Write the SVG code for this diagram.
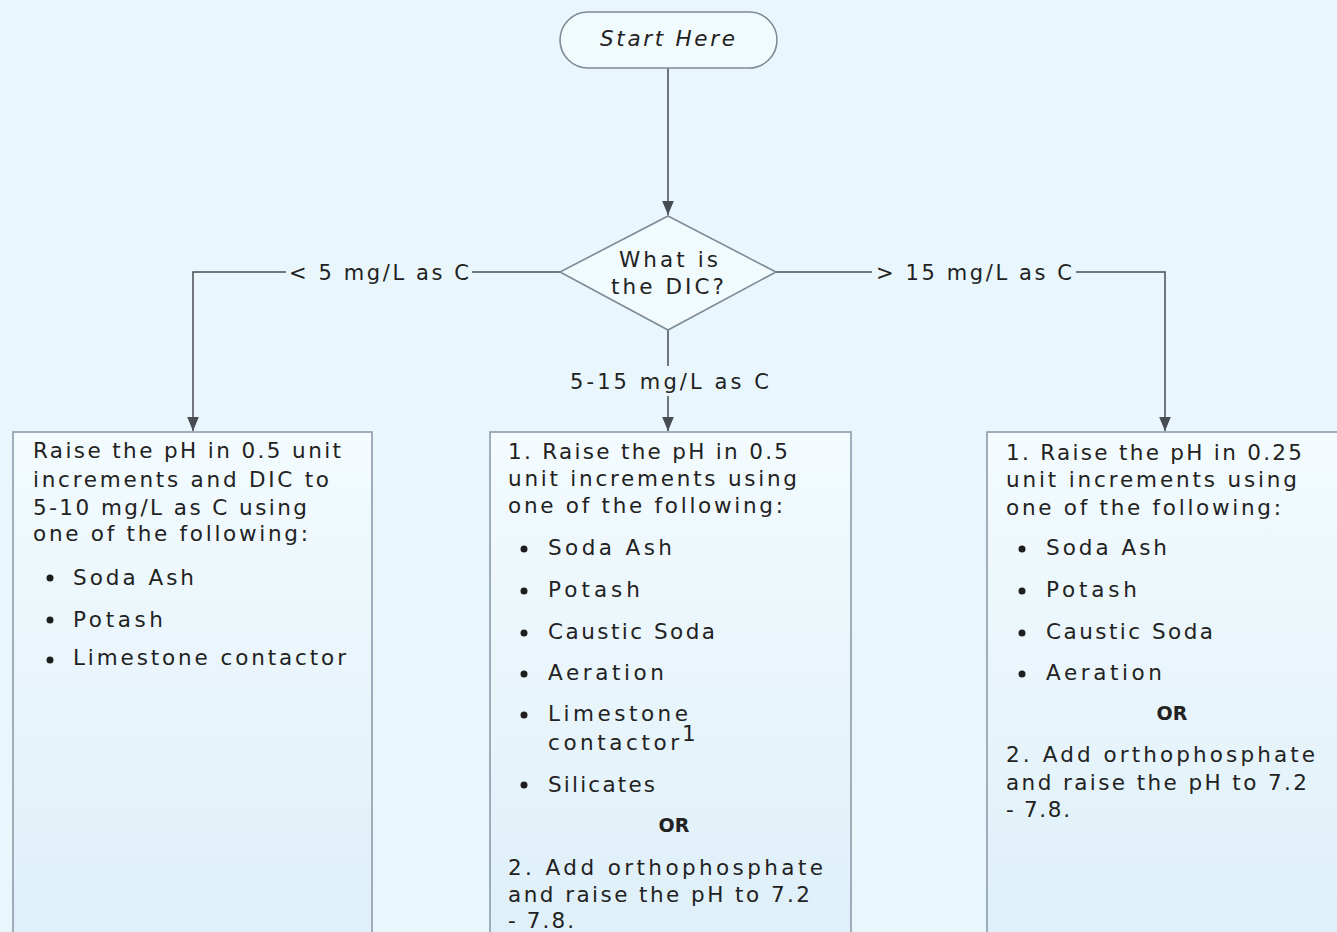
<svg xmlns="http://www.w3.org/2000/svg" width="1337" height="932" viewBox="0 0 1337 932">
  <style>
    .bg { fill: #e9f7fc; }
    .shape { fill: #f1fafd; stroke: #7d8b97; stroke-width: 1.6; }
    .box { fill: url(#boxFill); stroke: #8c9cab; stroke-width: 1.6; }
    .wire { fill: none; stroke: #474d52; stroke-width: 1.5; }
    .t { font-family: "DejaVu Sans", "Open Sans", sans-serif; font-size: 21.5px; fill: #222222; }
    .lbl { font-family: "DejaVu Sans", "Open Sans", sans-serif; font-size: 21px; fill: #222222; }
    .or { font-family: "DejaVu Sans", "Open Sans", sans-serif; font-size: 19px; font-weight: bold; fill: #222222; }
    .dot { fill: #1e1e1e; }
  </style>
  <defs>
    <linearGradient id="boxFill" x1="0" y1="0" x2="0" y2="1">
      <stop offset="0" stop-color="#f3fbfe"/>
      <stop offset="1" stop-color="#deeff8"/>
    </linearGradient>
    <marker id="arrow" viewBox="0 0 12 10" refX="12" refY="5" markerWidth="14" markerHeight="12" markerUnits="userSpaceOnUse" orient="auto">
      <path d="M0,0 L12,5 L0,10 Z" fill="#474d52"/>
    </marker>
  </defs>

  <rect class="bg" x="0" y="0" width="1337" height="932"/>

  <!-- connectors -->
  <g id="connectors">
    <line class="wire" x1="668" y1="68" x2="668" y2="215" marker-end="url(#arrow)"/>
    <polyline class="wire" points="560,272 193,272 193,431" marker-end="url(#arrow)"/>
    <polyline class="wire" points="776,272 1165,272 1165,431" marker-end="url(#arrow)"/>
    <line class="wire" x1="668" y1="330" x2="668" y2="431" marker-end="url(#arrow)"/>
    <!-- connector labels, masked on a background patch -->
    <g id="label-low">
      <rect class="bg" x="286" y="260" width="186" height="24"/>
      <text class="lbl" x="289" y="280" textLength="180">&lt; 5 mg/L as C</text>
    </g>
    <g id="label-high">
      <rect class="bg" x="872" y="260" width="204" height="24"/>
      <text class="lbl" x="876" y="280" textLength="196">&gt; 15 mg/L as C</text>
    </g>
    <g id="label-mid">
      <rect class="bg" x="566" y="366" width="206" height="30"/>
      <text class="lbl" x="570" y="389" textLength="199">5-15 mg/L as C</text>
    </g>
  </g>

  <!-- start terminator -->
  <g id="start">
    <rect class="shape" x="560" y="12" width="217" height="56" rx="28" ry="28"/>
    <text class="t" x="600" y="46" font-style="italic" textLength="135">Start Here</text>
  </g>

  <!-- decision -->
  <g id="decision">
    <polygon class="shape" points="668,216 776,272 668,330 560,272"/>
    <text class="t" x="619" y="267" textLength="99">What is</text>
    <text class="t" x="611" y="294" textLength="113">the DIC?</text>
  </g>

  <!-- low DIC branch -->
  <g id="box-low">
    <rect class="box" x="13" y="432" width="359" height="520"/>
    <text class="t" x="33" y="458" textLength="308">Raise the pH in 0.5 unit</text>
    <text class="t" x="33" y="487" textLength="296">increments and DIC to</text>
    <text class="t" x="33" y="515" textLength="274">5-10 mg/L as C using</text>
    <text class="t" x="33" y="541" textLength="275">one of the following:</text>
    <circle class="dot" cx="50" cy="578" r="3.5"/>
    <text class="t" x="73" y="585" textLength="121">Soda Ash</text>
    <circle class="dot" cx="50" cy="620" r="3.5"/>
    <text class="t" x="73" y="627" textLength="90">Potash</text>
    <circle class="dot" cx="50" cy="660" r="3.5"/>
    <text class="t" x="73" y="665" textLength="273">Limestone contactor</text>
  </g>

  <!-- mid DIC branch -->
  <g id="box-mid">
    <rect class="box" x="490" y="432" width="361" height="520"/>
    <text class="t" x="508" y="459" textLength="280">1. Raise the pH in 0.5</text>
    <text class="t" x="508" y="486" textLength="289">unit increments using</text>
    <text class="t" x="508" y="513" textLength="275">one of the following:</text>
    <circle class="dot" cx="524" cy="549" r="3.5"/>
    <text class="t" x="548" y="555" textLength="124">Soda Ash</text>
    <circle class="dot" cx="524" cy="591" r="3.5"/>
    <text class="t" x="548" y="597" textLength="92">Potash</text>
    <circle class="dot" cx="524" cy="633" r="3.5"/>
    <text class="t" x="548" y="639" textLength="167">Caustic Soda</text>
    <circle class="dot" cx="524" cy="674" r="3.5"/>
    <text class="t" x="548" y="680" textLength="116">Aeration</text>
    <circle class="dot" cx="524" cy="715" r="3.5"/>
    <text class="t" x="548" y="721" textLength="140">Limestone</text>
    <text class="t" x="548" y="750" textLength="131">contactor</text>
    <text class="t" x="682" y="741" font-size="11">1</text>
    <circle class="dot" cx="524" cy="785" r="3.5"/>
    <text class="t" x="548" y="792" textLength="107">Silicates</text>
    <text class="or" x="674" y="832" text-anchor="middle">OR</text>
    <text class="t" x="508" y="875" textLength="315">2. Add orthophosphate</text>
    <text class="t" x="508" y="902" textLength="302">and raise the pH to 7.2</text>
    <text class="t" x="508" y="928" textLength="66">- 7.8.</text>
  </g>

  <!-- high DIC branch -->
  <g id="box-high">
    <rect class="box" x="987" y="432" width="360" height="520"/>
    <text class="t" x="1006" y="460" textLength="296">1. Raise the pH in 0.25</text>
    <text class="t" x="1006" y="487" textLength="291">unit increments using</text>
    <text class="t" x="1006" y="515" textLength="275">one of the following:</text>
    <circle class="dot" cx="1022" cy="549" r="3.5"/>
    <text class="t" x="1046" y="555" textLength="121">Soda Ash</text>
    <circle class="dot" cx="1022" cy="591" r="3.5"/>
    <text class="t" x="1046" y="597" textLength="91">Potash</text>
    <circle class="dot" cx="1022" cy="633" r="3.5"/>
    <text class="t" x="1046" y="639" textLength="167">Caustic Soda</text>
    <circle class="dot" cx="1022" cy="674" r="3.5"/>
    <text class="t" x="1046" y="680" textLength="116">Aeration</text>
    <text class="or" x="1172" y="720" text-anchor="middle">OR</text>
    <text class="t" x="1006" y="762" textLength="309">2. Add orthophosphate</text>
    <text class="t" x="1006" y="790" textLength="301">and raise the pH to 7.2</text>
    <text class="t" x="1006" y="817" textLength="64">- 7.8.</text>
  </g>
</svg>
